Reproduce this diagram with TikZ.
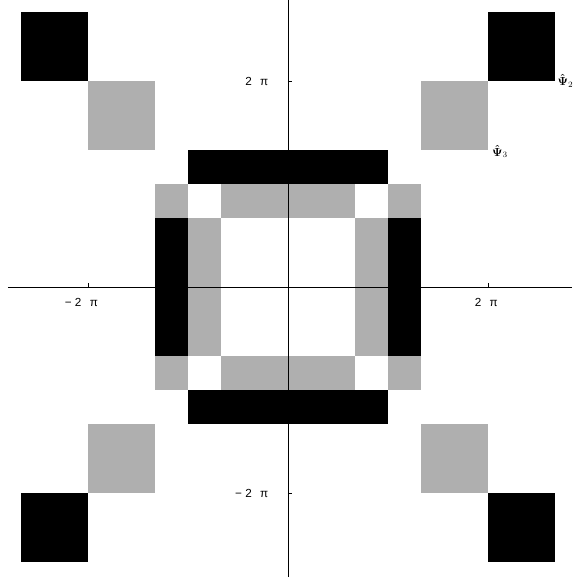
\documentclass[tikz,border=0pt]{standalone}
\usepackage{fontspec}
\setmainfont{Liberation Sans}
\usepackage{amsmath}
\usetikzlibrary{positioning}
\definecolor{cellgray}{RGB}{175,175,175}

\begin{document}
\begin{tikzpicture}[
            x=1cm, y=1.03cm,
            blackcell/.style={fill=black},
            graycell/.style={fill=cellgray},
            axis/.style={line width=0.7pt},
            axtick/.style={line width=0.6pt},
            ticklabel/.style={font=\normalsize, inner sep=1pt},
            psilabel/.style={font=\normalsize, inner sep=0pt, anchor=west}
        ]
            \useasboundingbox (-8.64,-8.45) rectangle (8.73,8.36);

            % Corner squares
            \foreach \sx in {-1,1}
              \foreach \sy in {-1,1} {
                \fill[blackcell] (6*\sx,6*\sy) rectangle (8*\sx,8*\sy);
                \fill[graycell] (4*\sx,4*\sy) rectangle (6*\sx,6*\sy);
              }

            % Central ring, black bars
            \fill[blackcell] (-3,3) rectangle (3,4);
            \fill[blackcell] (-3,-4) rectangle (3,-3);
            \fill[blackcell] (-4,-2) rectangle (-3,2);
            \fill[blackcell] (3,-2) rectangle (4,2);

            % Central ring, gray cells
            \fill[graycell] (-4,2) rectangle (-3,3);
            \fill[graycell] (3,2) rectangle (4,3);
            \fill[graycell] (-4,-3) rectangle (-3,-2);
            \fill[graycell] (3,-3) rectangle (4,-2);
            \fill[graycell] (-2,2) rectangle (2,3);
            \fill[graycell] (-2,-3) rectangle (2,-2);
            \fill[graycell] (-3,-2) rectangle (-2,2);
            \fill[graycell] (2,-2) rectangle (3,2);

            % Axes
            \coordinate (xmin) at (-8.4,0);
            \coordinate (xmax) at (8.52,0);
            \coordinate (ymin) at (0,-8.45);
            \coordinate (ymax) at (0,8.36);
            \draw[axis] (xmin) -- (xmax);
            \draw[axis] (ymin) -- (ymax);

            % Ticks
            \coordinate (xp) at (6,0);
            \coordinate (xm) at (-6,0);
            \coordinate (yp) at (0,6);
            \coordinate (ym) at (0,-6);
            \draw[axtick] (xp) -- ++(0,0.12);
            \draw[axtick] (xm) -- ++(0,0.12);
            \draw[axtick] (yp) -- ++(0.12,0);
            \draw[axtick] (ym) -- ++(0.12,0);

            % Tick labels
            \node[ticklabel] (xplab) at (5.95,-0.45) {2\hspace{0.25cm}π};
            \node[ticklabel] (xmlab) at (-6.2,-0.45) {−\hspace{0.1cm}2\hspace{0.25cm}π};
            \node[ticklabel, anchor=east] (yplab) at (-0.55,6) {2\hspace{0.25cm}π};
            \node[ticklabel, anchor=east] (ymlab) at (-0.55,-6) {−\hspace{0.1cm}2\hspace{0.25cm}π};

            % Labels
            \node[psilabel] (psitwo) at (8.08,6.0) {$\boldsymbol{\hat{\Psi}}_2$};
            \node[psilabel] (psithree) at (6.12,3.95) {$\boldsymbol{\hat{\Psi}}_3$};
        \end{tikzpicture}
\end{document}
